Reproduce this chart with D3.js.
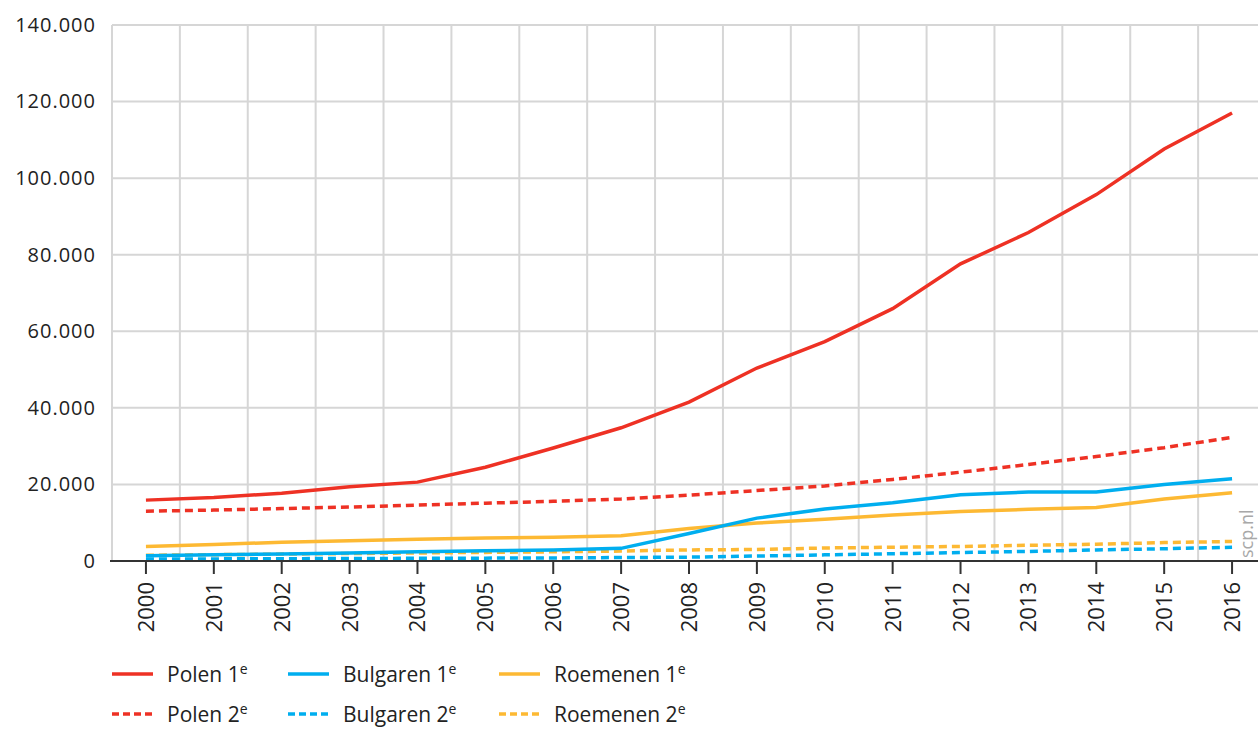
<!DOCTYPE html>
<html>
<head>
<meta charset="utf-8">
<script src="https://cdn.jsdelivr.net/npm/d3@7"></script>
<style>
  body { margin: 0; background: #fff; }
  svg { display: block; font-family: "Open Sans", sans-serif; }
</style>
</head>
<body>
<svg id="chart" width="1258" height="729"></svg>
<script>
// data
var years = [2000, 2001, 2002, 2003, 2004, 2005, 2006, 2007, 2008, 2009, 2010, 2011, 2012, 2013, 2014, 2015, 2016];
var polen1 = [15900, 16600, 17700, 19400, 20600, 24500, 29500, 34800, 41500, 50400, 57300, 65900, 77600, 85800, 95700, 107600, 117000];
var polen2 = [13000, 13300, 13700, 14100, 14600, 15100, 15600, 16200, 17200, 18400, 19600, 21300, 23200, 25200, 27300, 29600, 32300];
var bulg1 = [1400, 1600, 1850, 2100, 2400, 2650, 2900, 3300, 7200, 11200, 13600, 15200, 17300, 18000, 18000, 20000, 21500];
var bulg2 = [500, 550, 600, 650, 700, 750, 800, 900, 1000, 1300, 1600, 1900, 2200, 2500, 2900, 3200, 3600];
var roem1 = [3800, 4300, 4900, 5300, 5700, 6000, 6200, 6600, 8500, 9900, 10900, 12000, 12900, 13500, 14000, 16200, 17800];
var roem2 = [1500, 1650, 1800, 1950, 2100, 2250, 2400, 2600, 2900, 3000, 3400, 3600, 3800, 4100, 4400, 4800, 5100];
var yTicks = [0, 20000, 40000, 60000, 80000, 100000, 120000, 140000];

var series = [
  {name: "Polen", nr: "1", values: polen1, color: "#ee3124", dash: null},
  {name: "Bulgaren", nr: "1", values: bulg1, color: "#00aeef", dash: null},
  {name: "Roemenen", nr: "1", values: roem1, color: "#fdb933", dash: null},
  {name: "Polen", nr: "2", values: polen2, color: "#ee3124", dash: "8,5"},
  {name: "Bulgaren", nr: "2", values: bulg2, color: "#00aeef", dash: "8,5"},
  {name: "Roemenen", nr: "2", values: roem2, color: "#fdb933", dash: "8,5"}
];

var svg = d3.select("#chart");
var plotLeft = 112, plotRight = 1266, plotTop = 25, plotBottom = 561;

var x = d3.scaleBand().domain(years).range([plotLeft, plotRight]).padding(0);
var cx = function(yr) { return x(yr) + x.bandwidth() / 2; };
var y = d3.scaleLinear().domain([0, 140000]).range([plotBottom, plotTop]);

var nl = d3.formatLocale({decimal: ",", thousands: ".", grouping: [3], currency: ["€", ""]});
var fmt = nl.format(",");

// grid
var grid = svg.append("g");
grid.selectAll(".vg").data(years).enter().append("line")
  .attr("x1", function(d) { return x(d); }).attr("x2", function(d) { return x(d); })
  .attr("y1", plotTop).attr("y2", plotBottom)
  .attr("stroke", "#d6d6d6").attr("stroke-width", 2);
grid.selectAll(".hg").data(yTicks.filter(function(d) { return d > 0; })).enter().append("line")
  .attr("x1", plotLeft).attr("x2", 1258)
  .attr("y1", function(d) { return y(d); }).attr("y2", function(d) { return y(d); })
  .attr("stroke", "#d6d6d6").attr("stroke-width", 2);

// y labels
var gy = svg.append("g")
  .attr("transform", "translate(" + (plotLeft - 16) + ",0)")
  .call(d3.axisLeft(y).tickValues(yTicks).tickSize(0).tickPadding(0).tickFormat(fmt));
gy.select(".domain").remove();
gy.selectAll("text").attr("fill", "#222")
  .style("font-size", "20px").style("letter-spacing", "1px")
  .style("font-family", "\"Open Sans\", sans-serif");

// lines
var line = d3.line()
  .x(function(d, i) { return cx(years[i]); })
  .y(function(d) { return y(d); });

svg.append("g").selectAll("path").data(series.slice().reverse()).enter().append("path")
  .attr("d", function(s) { return line(s.values); })
  .attr("fill", "none")
  .attr("stroke", function(s) { return s.color; })
  .attr("stroke-width", 3.5)
  .attr("stroke-dasharray", function(s) { return s.dash; });

// x axis
var gx = svg.append("g").attr("transform", "translate(0," + plotBottom + ")");
gx.append("line").attr("x1", plotLeft - 2).attr("x2", 1258).attr("y1", 0).attr("y2", 0)
  .attr("stroke", "#333").attr("stroke-width", 2);
gx.selectAll(".tk").data(years).enter().append("line")
  .attr("x1", function(d) { return cx(d); }).attr("x2", function(d) { return cx(d); })
  .attr("y1", 0).attr("y2", 13)
  .attr("stroke", "#333").attr("stroke-width", 2);
gx.selectAll(".lb").data(years).enter().append("text")
  .attr("transform", function(d) { return "translate(" + (cx(d) + 8) + ",21) rotate(-90)"; })
  .attr("text-anchor", "end")
  .attr("fill", "#222")
  .style("font-size", "22px")
  .text(function(d) { return d; });

// watermark
svg.append("text")
  .attr("transform", "translate(1253,558) rotate(-90)")
  .attr("fill", "#a8a8a8")
  .style("font-size", "18px")
  .text("scp.nl");

// legend
var legX = [112, 288, 499];
var leg = svg.append("g");
series.forEach(function(s, i) {
  var col = i % 3, row = Math.floor(i / 3);
  var gx0 = legX[col], gy0 = 674 + row * 40;
  var g = leg.append("g").attr("transform", "translate(" + gx0 + "," + gy0 + ")");
  g.append("line").attr("x1", 0).attr("x2", 41).attr("y1", 0).attr("y2", 0)
    .attr("stroke", s.color).attr("stroke-width", 3.5)
    .attr("stroke-dasharray", s.dash ? "7,4" : null);
  var t = g.append("text").attr("x", 55).attr("y", 8)
    .attr("fill", "#222").style("font-size", "21px");
  t.append("tspan").text(s.name + " " + s.nr);
  t.append("tspan").attr("dy", -8).style("font-size", "14px").text("e");
});
</script>
</body>
</html>
